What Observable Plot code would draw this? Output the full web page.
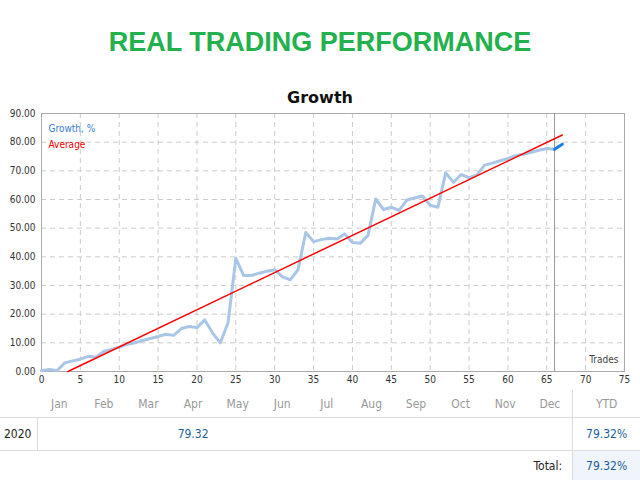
<!DOCTYPE html>
<html><head><meta charset="utf-8">
<script src="https://cdn.jsdelivr.net/npm/d3@7"></script>
<script src="https://cdn.jsdelivr.net/npm/@observablehq/plot@0.6"></script>
<style>
body{margin:0;background:#fff;font-family:"DejaVu Sans",sans-serif;width:640px;overflow:hidden}
#t{height:85px;text-align:center;color:#22b14c;font:bold 27px "Liberation Sans",Arial,sans-serif;line-height:84px}
#g{height:20px;text-align:center;font:bold 16px "DejaVu Sans",sans-serif;line-height:26px;color:#111}
table{border-collapse:collapse;width:640px;table-layout:fixed;font-size:12px;font-family:"DejaVu Sans Condensed","DejaVu Sans",sans-serif}
td{padding:0;text-align:center}
.h td{height:27px;color:#999}
.r td{height:32px;border-top:1px solid #ddd;border-bottom:1px solid #ddd;color:#1d5f99}
.f td{height:29px}
.yr{color:#222!important;text-align:left;padding-left:4px;border-right:1px solid #ddd}
.ytd{border-left:1px solid #ddd}
</style></head><body>
<div id="t">REAL TRADING PERFORMANCE</div>
<div id="g">Growth</div>
<div id="c"></div>
<table id="tb"></table>
<script>
const growth=[0.3,0.7,0.3,3,3.7,4.3,5.3,5,7,7.7,8.5,9.5,10,10.8,11.5,12.2,13,12.6,15,15.7,15.3,18,13.5,10,17,39.5,33.5,33.5,34.3,35,35.5,33,32,35.5,48.5,45.3,46,46.5,46.2,48,45,44.7,47.5,60.2,56.5,57.3,56.2,59.8,60.5,61.2,58,57.3,69.3,66,68.7,67.6,68.5,72,72.7,73.5,74.3,75.3,75.8,76.5,77.2,77.8,77.5,79.3];
const avgX=[3.4,67], avgY=[0,82.5];
const months=["Jan","Feb","Mar","Apr","May","Jun","Jul","Aug","Sep","Oct","Nov","Dec"];
const yearRow={year:"2020",values:["","","","79.32","","","","","","","",""],ytd:"79.32%",total:"79.32%"};
const pts=growth.map((v,i)=>({x:i,y:v}));
const last=pts.slice(66);
const avg=avgX.map((x,i)=>({x,y:avgY[i]}));
const plot=Plot.plot({
 width:640,height:285,marginLeft:41,marginRight:16,marginTop:8,marginBottom:19,
 style:{fontSize:"10px",fontFamily:"DejaVu Sans Condensed, DejaVu Sans, sans-serif",color:"#333"},
 x:{domain:[0,75],ticks:d3.range(0,76,5),label:null,tickSize:0,tickPadding:4},
 y:{domain:[0,90],ticks:d3.range(0,91,10),tickFormat:d=>d.toFixed(2),label:null,tickSize:0,tickPadding:6},
 marks:[
  Plot.gridX(d3.range(5,75,5),{stroke:"#ccc",strokeOpacity:1,strokeDasharray:"5,4"}),
  Plot.gridY(d3.range(10,90,10),{stroke:"#ccc",strokeOpacity:1,strokeDasharray:"5,4"}),
  Plot.frame({stroke:"#aaa"}),
  Plot.ruleX([66],{stroke:"#999"}),
  Plot.line(pts.slice(0,67),{x:"x",y:"y",stroke:"#a9c6e6",strokeWidth:3}),
  Plot.line(last,{x:"x",y:"y",stroke:"#1a7ee6",strokeWidth:3}),
  Plot.line(avg,{x:"x",y:"y",stroke:"#f00",strokeWidth:1.5}),
  Plot.text(["Growth, %"],{frameAnchor:"top-left",dx:7,dy:11,fill:"#3a7bd5",textAnchor:"start"}),
  Plot.text(["Average"],{frameAnchor:"top-left",dx:7,dy:27,fill:"#f00",textAnchor:"start"}),
  Plot.text(["Trades"],{frameAnchor:"bottom-right",dx:-6,dy:-9,fill:"#444",textAnchor:"end"})
 ]});
document.getElementById("c").appendChild(plot);
const tb=document.getElementById("tb");
let h='<tr class="h"><td style="width:37px"></td>'+months.map(m=>`<td style="width:44.6px">${m}</td>`).join("")+'<td class="ytd" style="width:67px">YTD</td></tr>';
h+=`<tr class="r"><td class="yr">${yearRow.year}</td>`+yearRow.values.map(v=>`<td>${v}</td>`).join("")+`<td class="ytd">${yearRow.ytd}</td></tr>`;
h+=`<tr class="f"><td colspan="13" style="text-align:right;padding-right:10px;color:#222">Total:</td><td class="ytd" style="background:#f0f4fb;color:#1d5f99">${yearRow.total}</td></tr>`;
tb.innerHTML=h;
</script></body></html>
